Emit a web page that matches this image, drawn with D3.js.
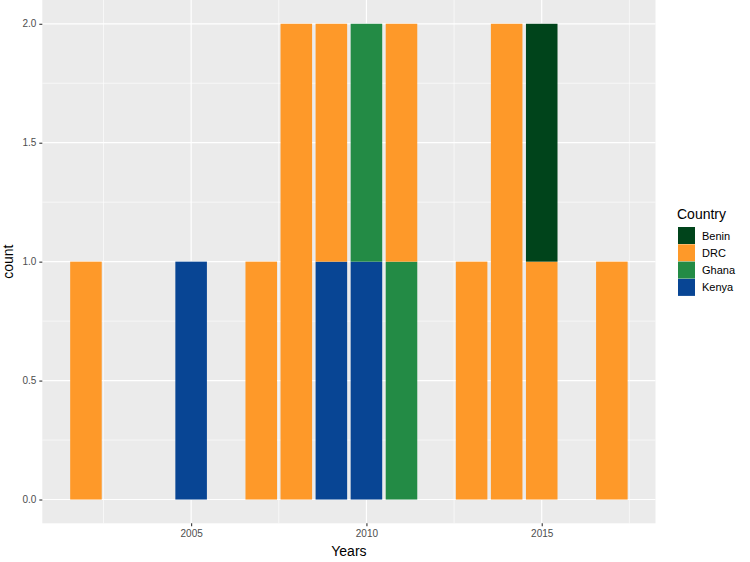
<!DOCTYPE html>
<html>
<head>
  <meta charset="utf-8">
  <script src="https://d3js.org/d3.v7.min.js"></script>
  <style>
    body { margin: 0; background: #fff; font-family: 'Liberation Sans', Arial, sans-serif; }
  </style>
</head>
<body>
<div id="chart"></div>
<script>
// data
var countries = ["Benin", "DRC", "Ghana", "Kenya"];
var colors = ["#00441b", "#fe9929", "#238b45", "#084594"];
var years = [2002, 2005, 2007, 2008, 2009, 2010, 2011, 2013, 2014, 2015, 2017];
var benin = [0, 0, 0, 0, 0, 0, 0, 0, 0, 1, 0];
var drc   = [1, 0, 1, 2, 1, 0, 1, 1, 2, 1, 1];
var ghana = [0, 0, 0, 0, 0, 1, 1, 0, 0, 0, 0];
var kenya = [0, 1, 0, 0, 1, 1, 0, 0, 0, 0, 0];
var yTicks = [0, 0.5, 1, 1.5, 2];
var xTicks = [2005, 2010, 2015];

var W = 750, H = 562;
var panel = { left: 42.3, right: 655.5, top: 0, bottom: 523.3 };

var svg = d3.select("#chart").append("svg")
  .attr("width", W).attr("height", H);

var x = d3.scaleLinear()
  .domain([2000.755, 2018.245])
  .range([panel.left, panel.right]);
var y = d3.scaleLinear()
  .domain([-0.1, 2.1])
  .range([panel.bottom, panel.top]);

// panel background
svg.append("rect")
  .attr("x", panel.left).attr("y", panel.top)
  .attr("width", panel.right - panel.left)
  .attr("height", panel.bottom - panel.top)
  .attr("fill", "#ebebeb");

// minor grid
var yMinor = [0.25, 0.75, 1.25, 1.75];
var xMinor = [2002.5, 2007.5, 2012.5, 2017.5];
svg.selectAll(".ymin").data(yMinor).enter().append("line")
  .attr("x1", panel.left).attr("x2", panel.right)
  .attr("y1", d => y(d)).attr("y2", d => y(d))
  .attr("stroke", "#fff").attr("stroke-width", 0.6);
svg.selectAll(".xmin").data(xMinor).enter().append("line")
  .attr("y1", panel.top).attr("y2", panel.bottom)
  .attr("x1", d => x(d)).attr("x2", d => x(d))
  .attr("stroke", "#fff").attr("stroke-width", 0.6);

// major grid
svg.selectAll(".ymaj").data(yTicks).enter().append("line")
  .attr("x1", panel.left).attr("x2", panel.right)
  .attr("y1", d => y(d)).attr("y2", d => y(d))
  .attr("stroke", "#fff").attr("stroke-width", 1.2);
svg.selectAll(".xmaj").data(xTicks).enter().append("line")
  .attr("y1", panel.top).attr("y2", panel.bottom)
  .attr("x1", d => x(d)).attr("x2", d => x(d))
  .attr("stroke", "#fff").attr("stroke-width", 1.2);

// stacked bars (Kenya at bottom, Benin on top)
var rows = years.map(function (yr, i) {
  return { year: yr, Benin: benin[i], DRC: drc[i], Ghana: ghana[i], Kenya: kenya[i] };
});
var stack = d3.stack().keys(countries.slice().reverse());
var series = stack(rows);
var color = d3.scaleOrdinal().domain(countries).range(colors);
var bw = x(2000.755 + 0.9) - x(2000.755);

svg.append("g").selectAll("g")
  .data(series).enter().append("g")
  .attr("fill", d => color(d.key))
  .selectAll("rect")
  .data(d => d.filter(p => p[1] > p[0]))
  .enter().append("rect")
  .attr("x", d => x(d.data.year) - bw / 2)
  .attr("width", bw)
  .attr("y", d => y(d[1]))
  .attr("height", d => y(d[0]) - y(d[1]));

// axes
var yAxis = svg.append("g")
  .attr("transform", "translate(" + panel.left + ",0)")
  .call(d3.axisLeft(y).tickValues(yTicks).tickFormat(d3.format(".1f")).tickSize(3).tickPadding(3));
var xAxis = svg.append("g")
  .attr("transform", "translate(0," + panel.bottom + ")")
  .call(d3.axisBottom(x).tickValues(xTicks).tickFormat(d3.format("d")).tickSize(3).tickPadding(4));
[yAxis, xAxis].forEach(function (a) {
  a.select(".domain").remove();
  a.selectAll(".tick line").attr("stroke", "#333").attr("stroke-width", 1.1);
  a.selectAll(".tick text").attr("fill", "#4d4d4d")
    .style("font-size", "10px").style("font-family", "'Liberation Sans', Arial, sans-serif");
});

// axis titles
svg.append("text")
  .attr("x", (panel.left + panel.right) / 2).attr("y", 556)
  .attr("text-anchor", "middle")
  .style("font-size", "14px").attr("fill", "#000")
  .text("Years");
svg.append("text")
  .attr("transform", "translate(13," + ((panel.top + panel.bottom) / 2) + ") rotate(-90)")
  .attr("text-anchor", "middle")
  .style("font-size", "14px").attr("fill", "#000")
  .text("count");

// legend
var lg = svg.append("g").attr("transform", "translate(677,0)");
lg.append("text")
  .attr("x", 0).attr("y", 219)
  .style("font-size", "14px").attr("fill", "#000")
  .text("Country");
var items = lg.selectAll(".item").data(countries).enter().append("g")
  .attr("transform", (d, i) => "translate(1," + (227 + i * 17.3) + ")");
items.append("rect")
  .attr("width", 17).attr("height", 17)
  .attr("fill", d => color(d));
items.append("text")
  .attr("x", 24).attr("y", 12.5)
  .style("font-size", "11px").attr("fill", "#000")
  .text(d => d);
</script>
</body>
</html>
